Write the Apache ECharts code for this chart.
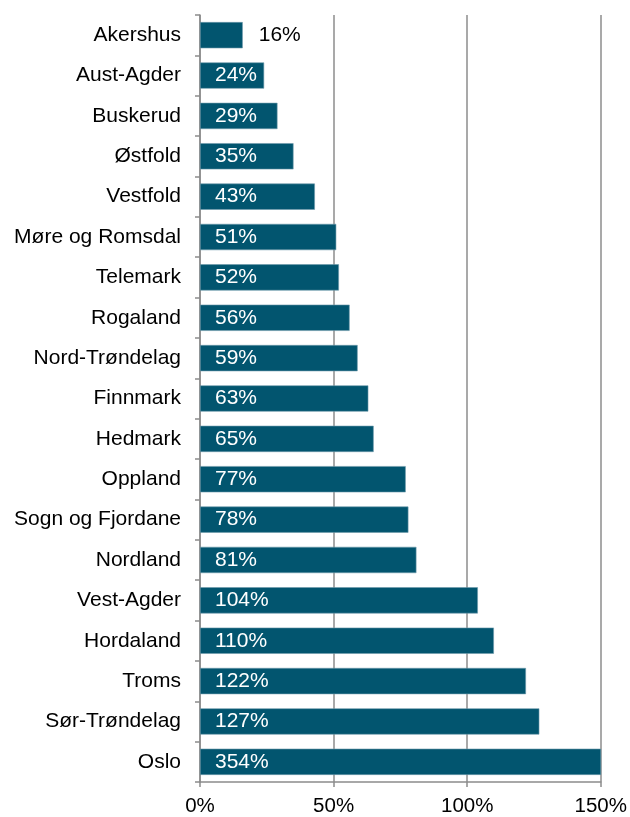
<!DOCTYPE html>
<html><head><meta charset="utf-8">
<script src="https://cdn.jsdelivr.net/npm/echarts@6/dist/echarts.min.js"></script>
<style>html,body{margin:0;padding:0;background:#fff}#c{width:630px;height:817px}</style>
</head><body><div id="c"></div>
<script>
const categories = ["Akershus","Aust-Agder","Buskerud","Østfold","Vestfold","Møre og Romsdal","Telemark","Rogaland","Nord-Trøndelag","Finnmark","Hedmark","Oppland","Sogn og Fjordane","Nordland","Vest-Agder","Hordaland","Troms","Sør-Trøndelag","Oslo"];
const values = [16,24,29,35,43,51,52,56,59,63,65,77,78,81,104,110,122,127,354];
const xTicks = [0,50,100,150];

const font = 'Liberation Sans, Arial, sans-serif';
const data = values.map((v,i)=> i===0 ? {value:v,label:{position:'right',distance:16,color:'#000'}} : v);

const chart = echarts.init(document.getElementById('c'), null, {renderer:'canvas'});
chart.setOption({
  animation:false,
  grid:{left:200,right:29,top:15,bottom:35,containLabel:false},
  xAxis:{type:'value',min:xTicks[0],max:xTicks[xTicks.length-1],interval:50,
    axisLine:{show:true,lineStyle:{color:'#8c8c8c',width:1.5}},
    axisTick:{show:true,length:5,lineStyle:{color:'#8c8c8c',width:1.5}},
    splitLine:{show:true,lineStyle:{color:'#8c8c8c',width:1.5}},
    axisLabel:{fontFamily:font,fontSize:20.5,color:'#000',margin:14,formatter:v=>v+'%'}},
  yAxis:{type:'category',data:categories,inverse:true,
    axisLine:{show:true,lineStyle:{color:'#8c8c8c',width:1.5}},
    axisTick:{show:true,length:5,alignWithLabel:false,lineStyle:{color:'#8c8c8c',width:1.5}},
    axisLabel:{fontFamily:font,fontSize:21,color:'#000',margin:19}},
  series:[{type:'bar',data:data,barCategoryGap:'35%',clip:true,
    itemStyle:{color:'#02556F',borderColor:'#6f9aab',borderWidth:0.6},
    label:{show:true,position:'insideLeft',distance:15,color:'#fff',fontFamily:font,fontSize:21,formatter:p=>p.value+'%'}}]
});
</script></body></html>
